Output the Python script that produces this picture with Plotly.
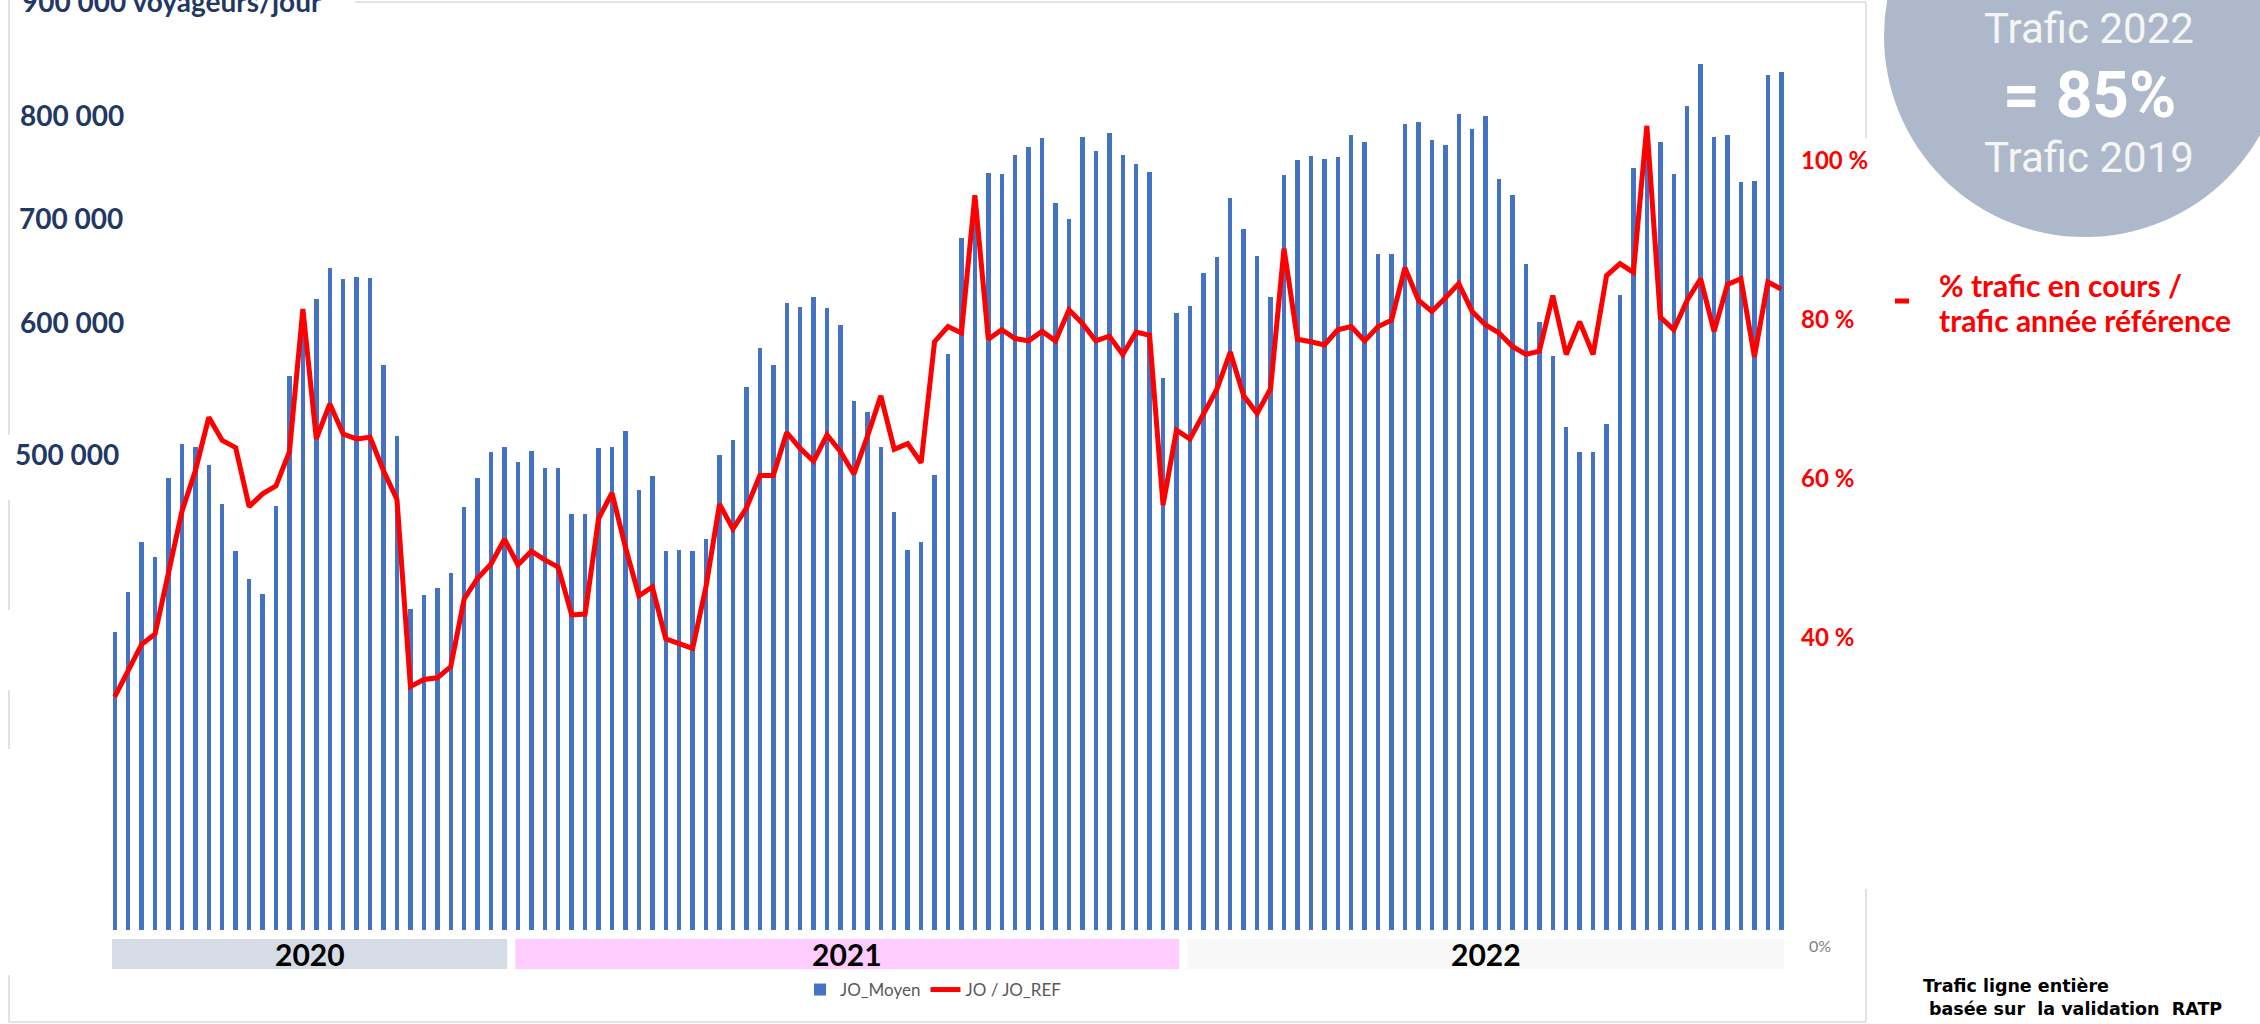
import plotly.graph_objects as go

# ---------------- DATA ----------------
periodes = list(range(125))

jo_moyen = [292000, 331000, 380000, 366000, 443000, 476000, 474000, 456000, 418000, 372000,
            344000, 329000, 416000, 543000, 586000, 619000, 649000, 638000, 640000, 639000,
            554000, 484000, 315000, 328000, 335000, 350000, 415000, 443000, 469000, 474000,
            459000, 470000, 453000, 453000, 408000, 408000, 473000, 474000, 489000, 431000,
            445000, 372000, 373000, 372000, 383000, 466000, 480000, 532000, 571000, 554000,
            615000, 611000, 621000, 610000, 593000, 519000, 508000, 474000, 410000, 373000,
            380000, 446000, 565000, 678000, 712000, 742000, 741000, 760000, 768000, 776000,
            713000, 697000, 777000, 764000, 781000, 760000, 751000, 743000, 541000, 605000,
            612000, 644000, 660000, 718000, 687000, 661000, 621000, 740000, 755000, 759000,
            756000, 758000, 779000, 773000, 663000, 663000, 790000, 792000, 775000, 770000,
            800000, 785000, 798000, 736000, 721000, 653000, 596000, 563000, 493000, 469000,
            469000, 496000, 623000, 747000, 762000, 773000, 741000, 808000, 849000, 777000,
            779000, 733000, 734000, 838000, 841000]

jo_ratio = [32.6, 35.9, 39.2, 40.5, 48.3, 55.9, 61.0, 67.7, 64.8, 63.9,
            56.5, 58.1, 59.1, 63.4, 81.3, 65.0, 69.4, 65.6, 65.0, 65.2,
            61.0, 57.4, 33.9, 34.8, 35.0, 36.4, 44.9, 47.5, 49.3, 52.4,
            49.2, 50.9, 49.8, 48.9, 42.9, 43.0, 55.0, 58.2, 51.4, 45.3,
            46.4, 39.9, 39.3, 38.7, 46.5, 56.8, 53.7, 56.3, 60.4, 60.4,
            65.8, 63.8, 62.2, 65.5, 63.4, 60.6, 65.3, 70.4, 63.7, 64.4,
            62.0, 77.2, 79.1, 78.3, 95.6, 77.5, 78.7, 77.6, 77.3, 78.5,
            77.3, 81.2, 79.5, 77.3, 77.9, 75.6, 78.4, 78.0, 56.7, 66.1,
            65.0, 68.2, 71.2, 75.9, 70.4, 68.2, 71.3, 88.9, 77.5, 77.2,
            76.8, 78.7, 79.1, 77.3, 79.1, 79.9, 86.5, 82.4, 81.0, 82.7,
            84.5, 81.0, 79.3, 78.3, 76.6, 75.6, 76.0, 83.0, 75.6, 79.7,
            75.6, 85.5, 87.0, 85.9, 104.3, 80.3, 78.7, 82.4, 85.1, 78.5,
            84.4, 85.1, 75.3, 84.7, 83.8]

annees = ["2020", "2021", "2022"]
nb_periodes_annee = [30, 50, 45]
couleurs_annee = ["#D6DCE5", "#FFCCFF", "#F8F8F8"]

labels_gauche = ["900 000 voyageurs/jour", "800 000", "700 000", "600 000", "500 000"]
ticks_droite = [40, 60, 80, 100]
ticks_droite_txt = ["40 %", "60 %", "80 %", "100 %"]

# ---------------- LAYOUT HELPERS ----------------
W, H = 2260, 1024
L, R = 108, 1788          # plot area left / right (px)
T, B = 0, 930             # plot area top / bottom (px)
PW, PH = R - L, B - T


def px(x):
    return (x - L) / PW


def py(y):
    return (B - y) / PH


fig = go.Figure()

fig.add_trace(go.Bar(
    x=periodes, y=jo_moyen, name="JO_Moyen", width=0.33,
    marker=dict(color="#4472C4", line=dict(width=0)),
))
fig.add_trace(go.Scatter(
    x=periodes, y=jo_ratio, name="JO / JO_REF", yaxis="y2", mode="lines",
    line=dict(color="#FF0000", width=5),
))

shapes = []
annotations = []

# year bands
start = -0.5
for an, n, col in zip(annees, nb_periodes_annee, couleurs_annee):
    x0, x1 = start + 0.3, start + n - 0.3
    shapes.append(dict(type="rect", xref="x", yref="paper", x0=x0, x1=x1,
                       y0=py(969), y1=py(939), fillcolor=col, line=dict(width=0),
                       layer="below"))
    annotations.append(dict(x=(x0 + x1) / 2, y=py(954), xref="x", yref="paper",
                            text="<b>%s</b>" % an, showarrow=False,
                            font=dict(family="Lato", size=30, color="#000000"),
                            xanchor="center", yanchor="middle"))
    start += n

# chart border (partially hidden segments as in original)
border = "#D9D9D9"
segs = [
    (9, 0, 9, 435), (9, 500, 9, 610), (9, 690, 9, 749), (9, 975, 9, 1022),
    (355, 2, 1866, 2), (1866, 2, 1866, 138), (1866, 889, 1866, 1022),
    (9, 1022, 1866, 1022),
]
for x0, y0, x1, y1 in segs:
    shapes.append(dict(type="line", xref="paper", yref="paper",
                       x0=px(x0), y0=py(y0), x1=px(x1), y1=py(y1),
                       line=dict(color=border, width=1.5)))

# circle
shapes.append(dict(type="circle", xref="paper", yref="paper",
                   x0=px(2085 - 201), x1=px(2085 + 201),
                   y0=py(36 + 201), y1=py(36 - 201),
                   fillcolor="#ADB9CA", line=dict(width=0), layer="above"))

# red dash of the side legend
shapes.append(dict(type="line", xref="paper", yref="paper",
                   x0=px(1895), x1=px(1909), y0=py(301), y1=py(301),
                   line=dict(color="#FF0000", width=5)))

# left labels (overlay text boxes)
left_pos = [(20, 1), (18, 115), (17, 218), (18, 322), (13, 454)]
for txt, (x, y) in zip(labels_gauche, left_pos):
    annotations.append(dict(x=px(x), y=py(y), xref="paper", yref="paper",
                            text="<b>%s</b>" % txt, showarrow=False,
                            font=dict(family="Lato", size=28, color="#1F3864"),
                            xanchor="left", yanchor="middle"))

# gray 0%
annotations.append(dict(x=px(1807), y=py(945), xref="paper", yref="paper",
                        text="0%", showarrow=False,
                        font=dict(family="Lato", size=16, color="#808080"),
                        xanchor="left", yanchor="middle"))

# red side legend text
for txt, y in [("% trafic en cours /", 285), ("trafic année référence", 320)]:
    annotations.append(dict(x=px(1937), y=py(y), xref="paper", yref="paper",
                            text="<b>%s</b>" % txt, showarrow=False, align="left",
                            font=dict(family="Lato", size=30, color="#FF0000"),
                            xanchor="left", yanchor="middle"))

# circle text
annotations.append(dict(x=px(2089), y=py(28), xref="paper", yref="paper",
                        text="Trafic 2022", showarrow=False,
                        font=dict(family="Roboto", size=42, color="#F5F5F5"),
                        xanchor="center", yanchor="middle"))
annotations.append(dict(x=px(2089), y=py(95), xref="paper", yref="paper",
                        text="<b>= 85%</b>", showarrow=False,
                        font=dict(family="Roboto", size=64, color="#FFFFFF"),
                        xanchor="center", yanchor="middle"))
annotations.append(dict(x=px(2089), y=py(157), xref="paper", yref="paper",
                        text="Trafic 2019", showarrow=False,
                        font=dict(family="Roboto", size=42, color="#F5F5F5"),
                        xanchor="center", yanchor="middle"))

# source note
for txt, x, y in [("Trafic ligne entière", 1921, 986),
                  ("basée sur\u00a0\u00a0la validation\u00a0\u00a0RATP", 1927, 1009)]:
    annotations.append(dict(x=px(x), y=py(y), xref="paper", yref="paper",
                            text="<b>%s</b>" % txt, showarrow=False, align="left",
                            font=dict(family="DejaVu Sans", size=17.5, color="#000000"),
                            xanchor="left", yanchor="middle"))

fig.update_layout(
    width=W, height=H,
    margin=dict(l=L, r=W - R, t=T, b=H - B, pad=0),
    paper_bgcolor="white", plot_bgcolor="white",
    bargap=0,
    showlegend=True,
    legend=dict(orientation="h", x=px(800), y=py(990), xanchor="left", yanchor="middle",
                font=dict(family="Lato", size=17, color="#595959"),
                bgcolor="rgba(0,0,0,0)", itemwidth=30, tracegroupgap=0),
    xaxis=dict(range=[-0.5, 124.5], showticklabels=False, showgrid=False,
               zeroline=False, showline=False, ticks=""),
    yaxis=dict(range=[0, 930 / 102 * 100000], visible=False, showgrid=False,
               zeroline=False),
    yaxis2=dict(overlaying="y", side="right", range=[3.34, 120.1],
                tickvals=ticks_droite, ticktext=ticks_droite_txt,
                tickfont=dict(family="Lato", size=24, color="#FF0000", weight="bold"),
                showgrid=False, zeroline=False, showline=False, ticks="",
                ticklabelstandoff=12),
    shapes=shapes,
    annotations=annotations,
)

fig.write_html("out.html", config={"displayModeBar": False},
               post_script="document.body.style.margin='0';")
